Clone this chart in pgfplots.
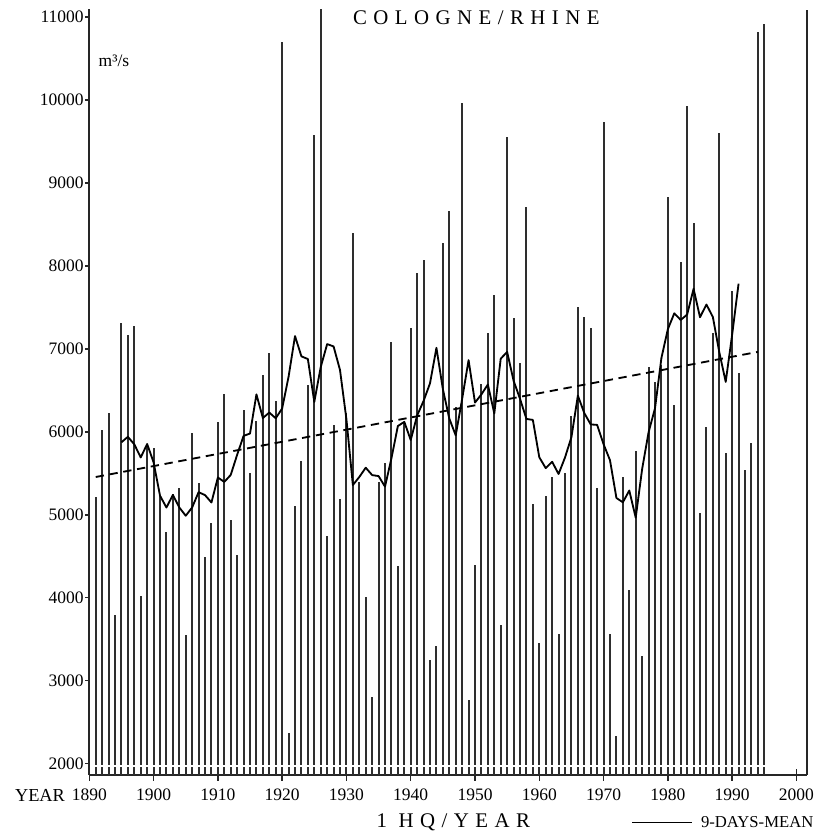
\documentclass[border=0pt]{standalone}
\usepackage{fontspec}
\setmainfont{Liberation Serif}
\newfontfamily\spaced[LetterSpace=31]{Liberation Serif}
\usepackage{pgfplots}
\pgfplotsset{compat=1.18}
\usepackage{pgfplotstable}

% annual maximum discharge (HQ) at Cologne, m^3/s
\pgfplotstableread{
year hq
1891 5218
1892 6025
1893 6223
1894 3792
1895 7308
1896 7167
1897 7270
1898 4015
1899 5850
1900 5800
1901 5220
1902 4797
1903 5250
1904 5320
1905 3551
1906 5982
1907 5379
1908 4495
1909 4897
1910 6122
1911 6450
1912 4937
1913 4515
1914 6263
1915 5508
1916 6130
1917 6685
1918 6946
1919 6375
1920 10702
1921 2366
1922 5110
1923 5648
1924 6564
1925 9578
1926 11100
1927 4740
1928 6082
1929 5186
1930 6223
1931 8393
1932 5399
1933 4005
1934 2799
1935 5391
1936 5620
1937 7087
1938 4387
1939 6110
1940 7250
1941 7910
1942 8071
1943 3250
1944 3422
1945 8280
1946 8665
1947 6300
1948 9960
1949 2767
1950 4395
1951 6576
1952 7187
1953 7645
1954 3671
1955 9557
1956 7368
1957 6826
1958 8706
1959 5130
1960 3450
1961 5226
1962 5459
1963 3563
1964 5508
1965 6191
1966 7505
1967 7388
1968 7247
1969 5325
1970 9738
1971 3567
1972 2333
1973 5451
1974 4093
1975 5770
1976 3298
1977 6777
1978 6600
1979 6800
1980 8834
1981 6323
1982 8050
1983 9927
1984 8520
1985 5017
1986 6062
1987 7187
1988 9598
1989 5741
1990 7700
1991 6705
1992 5545
1993 5861
1994 10823
1995 10916
}\annualmax

% 9-year running mean of the series above
\pgfplotstableread{
year mean
1895 5874
1896 5939
1897 5849
1898 5691
1899 5853
1900 5632
1901 5230
1902 5087
1903 5239
1904 5088
1905 4988
1906 5088
1907 5272
1908 5237
1909 5148
1910 5449
1911 5396
1912 5480
1913 5723
1914 5951
1915 5979
1916 6451
1917 6166
1918 6232
1919 6163
1920 6281
1921 6664
1922 7154
1923 6909
1924 6877
1925 6360
1926 6780
1927 7057
1928 7029
1929 6745
1930 6150
1931 5358
1932 5455
1933 5567
1934 5478
1935 5466
1936 5339
1937 5680
1938 6069
1939 6120
1940 5901
1941 6196
1942 6372
1943 6584
1944 7012
1945 6514
1946 6160
1947 5957
1948 6395
1949 6864
1950 6352
1951 6451
1952 6570
1953 6221
1954 6881
1955 6963
1956 6616
1957 6398
1958 6155
1959 6143
1960 5693
1961 5562
1962 5638
1963 5491
1964 5690
1965 5935
1966 6436
1967 6226
1968 6089
1969 6083
1970 5850
1971 5657
1972 5202
1973 5150
1974 5292
1975 4965
1976 5551
1977 5994
1978 6283
1979 6890
1980 7237
1981 7428
1982 7348
1983 7413
1984 7724
1985 7381
1986 7534
1987 7384
1988 6960
1989 6602
1990 7170
1991 7786
}\runmean

\begin{document}
\begin{tikzpicture}[x=1pt,y=1pt]
\begin{axis}[
  at={(53.58pt,35.4pt)}, anchor=south west,
  scale only axis, width=430.44pt, height=459.78pt,
  xmin=1890, xmax=2001.6, ymin=1863, ymax=11100,
  axis lines=left,
  axis line style={-, line width=1pt, black!85},
  xtick={1890,1900,...,2000},
  xtick align=center,
  major tick length=7pt,
  every tick/.style={black!85, line width=0.9pt},
  ytick=\empty,
  extra y ticks={2000,3000,...,11000},
  extra y tick style={major tick length=2.4pt, ytick align=outside},
  /pgf/number format/1000 sep={},
  /pgf/number format/assume math mode=true,
  tick label style={font=\fontsize{10.5}{12}\selectfont},
  xticklabel style={anchor=north, inner sep=0pt, yshift=-4.8pt},
  yticklabel style={anchor=east, inner sep=0pt, xshift=-0.8pt},
  clip=true,
]
  % one vertical stroke per year
  \addplot[ycomb, draw=black!82, line width=1.2pt, mark=none]
    table[x=year, y=hq] {\annualmax};
  % gap between the strokes and the axis line
  \draw[white, line width=1.3pt] (axis cs:1890.4,1975) -- (axis cs:2001.2,1975);
  % linear trend
  \addplot[black, line width=1.1pt, dash pattern=on 5pt off 3.4pt]
    coordinates {(1891,5455) (1994,6963)};
  % running mean
  \addplot[black, line width=1.1pt, line join=round, mark=none]
    table[x=year, y=mean] {\runmean};
\end{axis}

% right frame line
\draw[line width=1pt, black!85] (484.02pt,35.4pt) -- (484.02pt,494.4pt);

\node[anchor=base, inner sep=0pt, font=\spaced\fontsize{12.5}{14}\selectfont]
  at (285.8pt,485.4pt) {COLOGNE/RHINE};
\node[anchor=base, inner sep=0pt, font=\fontsize{10.5}{12}\selectfont]
  at (68.4pt,460.2pt) {m³/s};
\node[anchor=base, inner sep=0pt, font=\fontsize{11}{12}\selectfont]
  at (24pt,19.2pt) {YEAR};
\node[anchor=base, inner sep=0pt, font=\spaced\fontsize{12.5}{14}\selectfont]
  at (272pt,3.6pt) {1\hspace{7pt}HQ/YEAR};
\draw[line width=0.8pt] (379.2pt,6.8pt) -- (415.2pt,6.8pt);
\node[anchor=base west, inner sep=0pt, font=\fontsize{10}{12}\selectfont]
  at (420.4pt,3.6pt) {9-DAYS-MEAN};

\pgfresetboundingbox
\useasboundingbox (0,0) rectangle (490.8pt,500.4pt);
\end{tikzpicture}
\end{document}
